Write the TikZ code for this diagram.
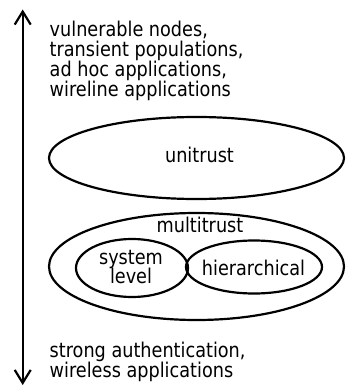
\documentclass[tikz,border=0pt]{standalone}
\usepackage{fontspec}
\setmainfont[FakeStretch=0.87]{DejaVu Sans}
\usetikzlibrary{shapes.geometric,arrows.meta}
\tikzset{
  ring/.style={ellipse, draw, line width=2.2pt, inner sep=0pt},
  lbl/.style={inner sep=0pt, font=\fontsize{20.3pt}{20pt}\selectfont},
  notes/.style={lbl, align=left, anchor=base west},
  axis/.style={line width=2.2pt, {Straight Barb[length=13pt,width=16pt,line width=2.2pt]}-{Straight Barb[length=13pt,width=16pt,line width=2.2pt]}}
}
\begin{document}
\begin{tikzpicture}[x=1pt,y=1pt]
\useasboundingbox (0,0) rectangle (345,-387);
% trust scale axis
\coordinate (top) at (22.7,-9.5);
\coordinate (bot) at (22.7,-385);
\draw[axis] (bot) -- (top);
% end-of-scale annotations (anchored at the baseline of their last line)
\node[notes] (upper) at (49.5,-97) {vulnerable nodes,\\transient populations,\\ad hoc applications,\\wireline applications};
\node[notes] (lower) at (49.5,-377) {strong authentication,\\wireless applications};
% trust models
\node[ring, minimum width=295pt, minimum height=82pt] (uni) at (196.5,-158) {};
\node[lbl, anchor=base] (unit) at (199.5,-163) {unitrust};
\node[ring, minimum width=295pt, minimum height=107pt] (multi) at (196.5,-266.5) {};
\node[lbl, anchor=base] (multit) at (200,-232) {multitrust};
\node[ring, minimum width=112pt, minimum height=58pt] (sys) at (132,-268) {};
\node[lbl, anchor=base] (syst) at (131,-264) {system};
\node[lbl, anchor=base] (lev) at (131,-283.5) {level};
\node[ring, minimum width=136pt, minimum height=53pt] (hier) at (254,-267) {};
\node[lbl, anchor=base] (hiert) at (253.5,-275.7) {hierarchical};
\end{tikzpicture}
\end{document}
